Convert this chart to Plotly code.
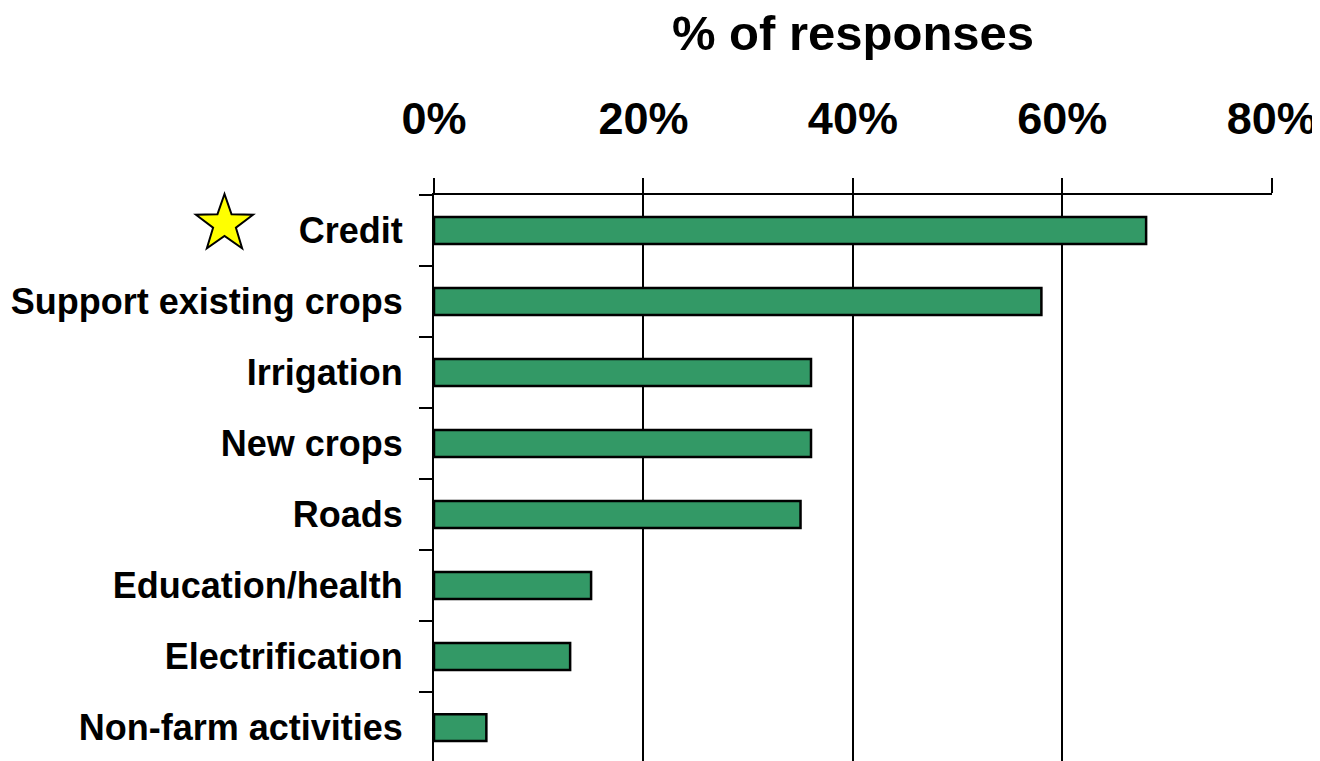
import math
import plotly.graph_objects as go

categories = ["Credit", "Support existing crops", "Irrigation", "New crops",
              "Roads", "Education/health", "Electrification", "Non-farm activities"]
values = [68, 58, 36, 36, 35, 15, 13, 5]
x_ticks = [0, 20, 40, 60, 80]
x_tick_labels = ["0%", "20%", "40%", "60%", "80%"]

FONT = "Liberation Sans, Arial, sans-serif"
W, H = 1312, 753   # page body has an 8px default margin
OFF = 8

fig = go.Figure()
fig.add_trace(go.Bar(
    y=categories, x=values, orientation="h",
    marker=dict(color="#339966", line=dict(color="black", width=2.5)),
    width=0.38, showlegend=False, hoverinfo="x+y",
))

# decorative five-pointed star next to "Credit" (pixel-sized shape anchored in paper coords)
R_OUT, R_IN = 30, 12
pts = []
for k in range(10):
    r = R_OUT if k % 2 == 0 else R_IN
    a = math.pi / 2 + k * math.pi / 5
    pts.append((r * math.cos(a), r * math.sin(a)))
star_path = "M " + " L ".join("%.2f,%.2f" % p for p in pts) + " Z"
fig.add_shape(
    type="path", path=star_path, xref="paper", yref="paper",
    xsizemode="pixel", ysizemode="pixel",
    xanchor=(224.5 - 434) / 838, yanchor=(761 - 224) / 566,
    fillcolor="#ffff00", line=dict(color="black", width=2), layer="above",
)

fig.update_layout(
    width=W, height=H,
    margin=dict(l=434 - OFF, r=48, t=195 - OFF, b=0, autoexpand=False),
    plot_bgcolor="white", paper_bgcolor="white",
    font=dict(family=FONT, color="black"),
    title=dict(text="<b>% of responses</b>", x=0.5, xref="paper",
               y=1 - 25 / H, yref="container", yanchor="middle", xanchor="center",
               font=dict(size=49, family=FONT, color="black")),
    xaxis=dict(side="top", range=[0, 80.02], tickvals=x_ticks,
               ticktext=["<b>%s</b>" % t for t in x_tick_labels],
               tickfont=dict(size=45, family=FONT, color="black"),
               showgrid=True, gridcolor="black", gridwidth=2,
               showline=True, linecolor="black", linewidth=2,
               ticks="outside", ticklen=15, tickwidth=2, tickcolor="black",
               zeroline=False, ticklabelstandoff=26, automargin=False),
    yaxis=dict(categoryorder="array", categoryarray=categories,
               tickvals=categories, ticktext=["<b>%s</b>" % c for c in categories],
               range=[7.47, -0.5], tickson="boundaries",
               tickfont=dict(size=36, family=FONT, color="black"),
               showgrid=False, zeroline=False,
               showline=True, linecolor="black", linewidth=2,
               ticks="outside", ticklen=13, tickwidth=2, tickcolor="black",
               ticklabelstandoff=22, automargin=False),
)

fig.write_html("out.html")
